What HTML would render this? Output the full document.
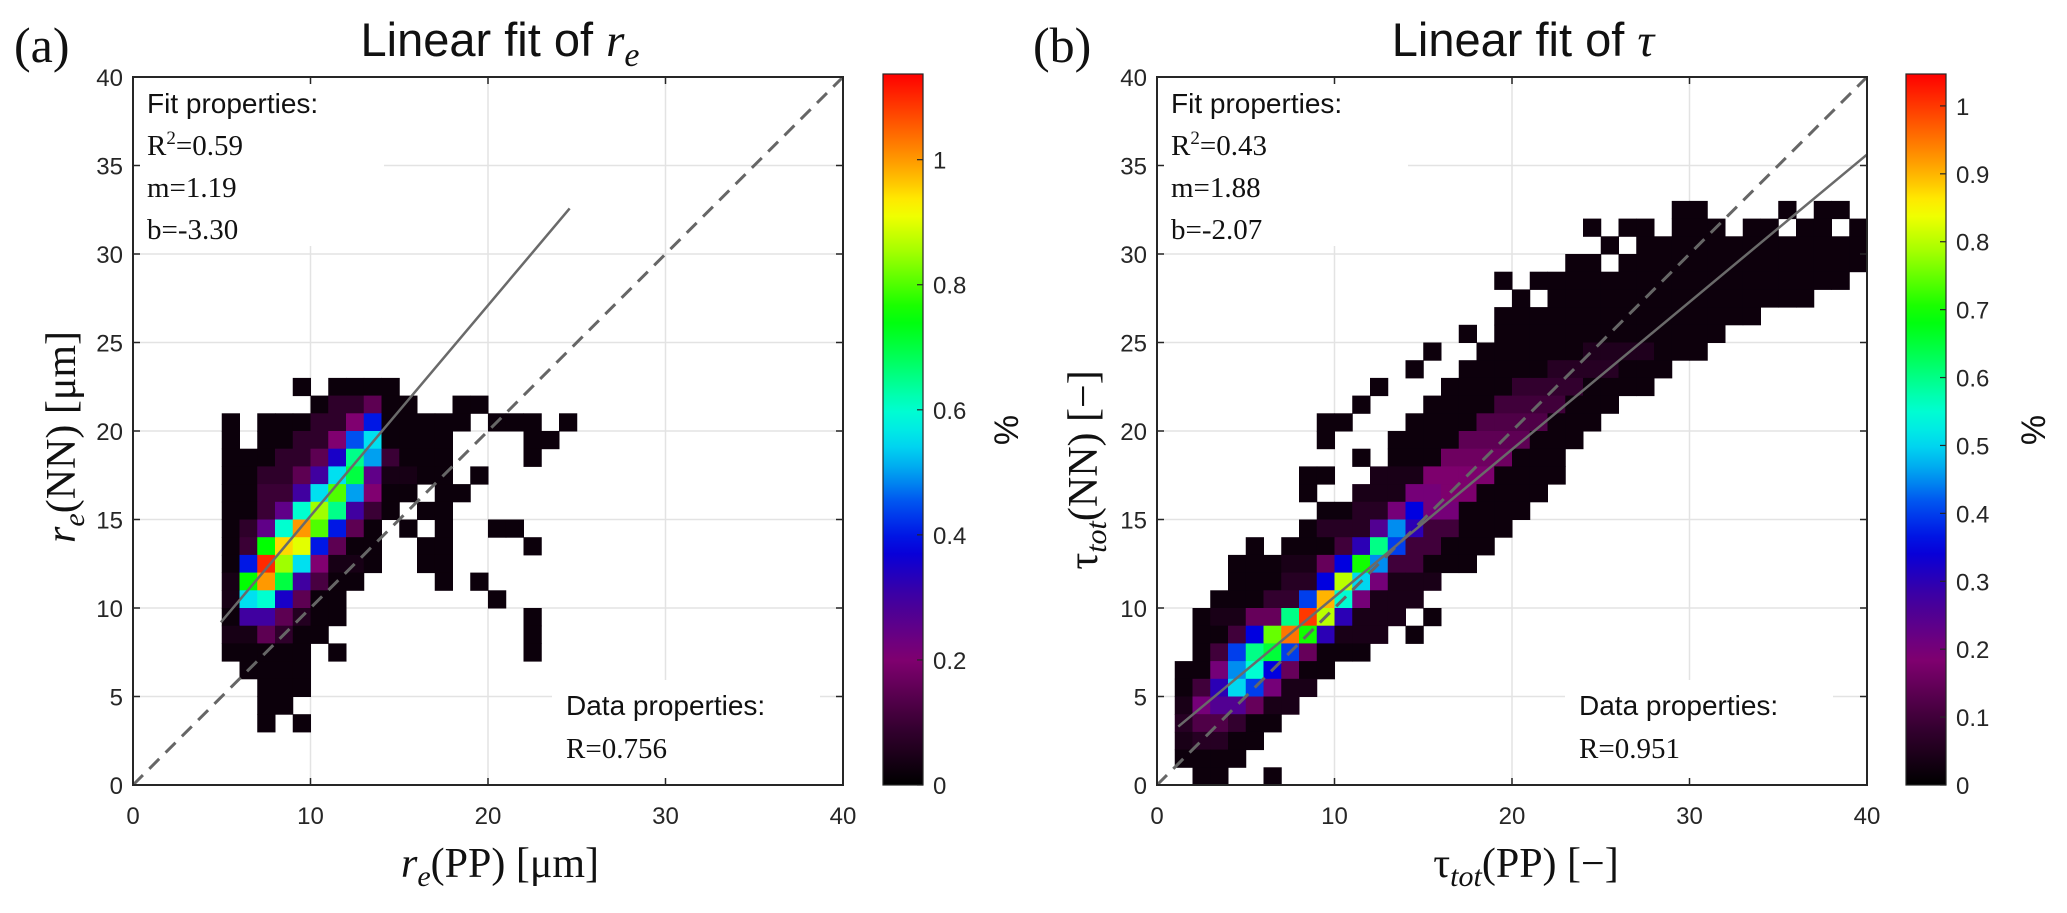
<!DOCTYPE html>
<html><head><meta charset="utf-8">
<style>
html,body{margin:0;padding:0;background:#fff;}
svg{display:block;}
.tick{font-family:"Liberation Sans",sans-serif;font-size:24px;fill:#262626;}
.ser{font-family:"Liberation Serif",serif;}
.san{font-family:"Liberation Sans",sans-serif;}
</style></head>
<body>
<svg id="fig" width="2067" height="913" viewBox="0 0 2067 913" xmlns="http://www.w3.org/2000/svg">
  <defs>
    <linearGradient id="cmapL" x1="0" y1="1" x2="0" y2="0"></linearGradient>
    <linearGradient id="cmapR" x1="0" y1="1" x2="0" y2="0"></linearGradient>
  </defs>
  <text x="14" y="62" class="ser" font-size="50" fill="#111">(a)</text>
  <text x="1033" y="62" class="ser" font-size="50" fill="#111">(b)</text>
  <text x="500" y="56" text-anchor="middle" class="san" font-size="47" fill="#111">Linear fit of <tspan class="ser" font-style="italic">r</tspan><tspan class="ser" font-style="italic" font-size="34" dy="10">e</tspan></text>
  <text x="1523" y="56" text-anchor="middle" class="san" font-size="47" fill="#111">Linear fit of <tspan class="ser" font-style="italic">τ</tspan></text>
  <g id="panelA"></g>
  <g id="panelB"></g>
  <text transform="translate(75,437) rotate(-90)" text-anchor="middle" class="ser" font-size="42" fill="#111"><tspan font-style="italic">r</tspan><tspan font-style="italic" font-size="30" dy="9">e</tspan><tspan dy="-9">(NN) [μm]</tspan></text>
  <text x="500" y="877" text-anchor="middle" class="ser" font-size="42" fill="#111"><tspan font-style="italic">r</tspan><tspan font-style="italic" font-size="30" dy="9">e</tspan><tspan dy="-9">(PP) [μm]</tspan></text>
  <text transform="translate(1097,470) rotate(-90)" text-anchor="middle" class="ser" font-size="42" fill="#111">τ<tspan font-style="italic" font-size="30" dy="9">tot</tspan><tspan dy="-9">(NN) [−]</tspan></text>
  <text x="1526" y="877" text-anchor="middle" class="ser" font-size="42" fill="#111">τ<tspan font-style="italic" font-size="30" dy="9">tot</tspan><tspan dy="-9">(PP) [−]</tspan></text>
  <text transform="translate(1018,430) rotate(-90)" text-anchor="middle" class="san" font-size="34" fill="#111">%</text>
  <text transform="translate(2045,430) rotate(-90)" text-anchor="middle" class="san" font-size="34" fill="#111">%</text>
</svg>
<script>
// ---- data: panel (a) r_e, rows of runs [xStart, xEnd, percent] per y-bin (1 µm bins)
const rowsA_y = [22,21,20,19,18,17,16,15,14,13,12,11,10,9,8,7,6,5,4,3];
const rowsA = [
 [[9,9,.02],[11,14,.02]],
 [[10,10,.02],[11,12,.08],[13,13,.15],[14,15,.02],[18,19,.02]],
 [[5,5,.02],[7,9,.02],[10,11,.08],[12,12,.2],[13,13,.4],[14,18,.02],[20,22,.02],[24,24,.02]],
 [[5,5,.02],[7,8,.02],[9,10,.08],[11,11,.2],[12,12,.45],[13,13,.55],[14,17,.02],[22,23,.02]],
 [[5,7,.02],[8,9,.08],[10,10,.15],[11,11,.35],[12,12,.65],[13,13,.5],[14,14,.1],[15,17,.02],[22,22,.02]],
 [[5,6,.02],[7,8,.08],[9,9,.15],[10,10,.3],[11,11,.55],[12,12,.7],[13,13,.25],[14,15,.04],[16,17,.02],[19,19,.02]],
 [[5,6,.02],[7,8,.1],[9,9,.3],[10,10,.55],[11,11,.8],[12,12,.5],[13,13,.2],[14,15,.02],[17,18,.02]],
 [[5,6,.02],[7,7,.1],[8,8,.25],[9,9,.6],[10,10,.85],[11,11,.65],[12,12,.3],[13,13,.1],[14,14,.02],[16,17,.02]],
 [[5,5,.02],[6,6,.08],[7,7,.25],[8,8,.6],[9,9,1.0],[10,10,.8],[11,11,.4],[12,12,.15],[13,13,.02],[15,15,.02],[17,17,.02],[20,21,.02]],
 [[5,5,.02],[6,6,.1],[7,7,.75],[8,8,.95],[9,9,.9],[10,10,.4],[11,11,.15],[12,13,.02],[16,17,.02],[22,22,.02]],
 [[5,5,.02],[6,6,.4],[7,7,1.1],[8,8,.85],[9,9,.55],[10,10,.2],[11,12,.04],[13,13,.02],[16,17,.02]],
 [[5,5,.04],[6,6,.75],[7,7,1.0],[8,8,.7],[9,9,.3],[10,10,.12],[11,12,.02],[17,17,.02],[19,19,.02]],
 [[5,5,.04],[6,6,.55],[7,7,.6],[8,8,.35],[9,9,.15],[10,11,.02],[20,20,.02]],
 [[5,5,.02],[6,6,.3],[7,7,.3],[8,8,.15],[9,9,.06],[10,11,.02],[22,22,.02]],
 [[5,6,.04],[7,7,.15],[8,8,.08],[9,10,.02],[22,22,.02]],
 [[5,9,.02],[11,11,.02],[22,22,.02]],
 [[6,9,.02]],
 [[7,9,.02]],
 [[7,8,.02]],
 [[7,7,.02],[9,9,.02]]
];
// ---- data: panel (b) tau, rows of runs
const rowsB_y = [32,31,30,29,28,27,26,25,24,23,22,21,20,19,18,17,16,15,14,13,12,11,10,9,8,7,6,5,4,3,2,1,0];
const rowsB = [
 [[29,30,.02],[35,35,.02],[37,38,.02]],
 [[24,24,.02],[26,27,.02],[29,31,.02],[33,34,.02],[36,37,.02],[39,39,.02]],
 [[25,25,.02],[27,39,.02]],
 [[23,24,.02],[26,39,.02]],
 [[19,19,.02],[21,38,.02]],
 [[20,20,.02],[22,36,.02]],
 [[19,33,.02]],
 [[17,17,.02],[19,31,.02]],
 [[15,15,.02],[18,23,.02],[24,27,.05],[28,30,.02]],
 [[14,14,.02],[17,21,.02],[22,25,.06],[26,28,.02]],
 [[12,12,.02],[16,19,.02],[20,23,.08],[24,27,.02]],
 [[11,11,.02],[15,18,.02],[19,22,.1],[23,25,.02]],
 [[9,10,.02],[14,17,.02],[18,21,.12],[22,24,.02]],
 [[9,9,.02],[13,16,.02],[17,20,.14],[21,23,.02]],
 [[11,11,.02],[13,15,.02],[16,19,.16],[20,22,.02]],
 [[8,9,.02],[12,14,.04],[15,18,.18],[19,22,.02]],
 [[8,8,.02],[11,13,.04],[14,15,.2],[16,17,.18],[18,21,.02]],
 [[9,10,.02],[11,12,.06],[13,13,.2],[14,14,.35],[15,16,.2],[17,20,.02]],
 [[8,8,.02],[9,11,.06],[12,12,.25],[13,13,.45],[14,14,.3],[15,16,.1],[17,19,.02]],
 [[5,5,.02],[7,9,.02],[10,10,.1],[11,11,.3],[12,12,.6],[13,13,.4],[14,15,.1],[16,18,.02]],
 [[4,6,.02],[7,8,.04],[9,9,.15],[10,10,.35],[11,11,.7],[12,12,.45],[13,14,.1],[15,17,.02]],
 [[4,6,.02],[7,8,.06],[9,9,.35],[10,10,.8],[11,11,.5],[12,12,.2],[13,15,.04]],
 [[3,5,.02],[6,7,.08],[8,8,.4],[9,9,.9],[10,10,.55],[11,11,.2],[12,14,.04]],
 [[2,2,.02],[3,4,.04],[5,6,.15],[7,7,.6],[8,8,1.0],[9,9,.8],[10,10,.3],[11,13,.04],[15,15,.02]],
 [[2,3,.02],[4,4,.1],[5,5,.35],[6,6,.75],[7,7,.95],[8,8,.7],[9,9,.3],[10,12,.04],[14,14,.02]],
 [[2,2,.02],[3,3,.1],[4,4,.4],[5,5,.6],[6,6,.65],[7,7,.4],[8,8,.15],[9,11,.02]],
 [[1,2,.02],[3,3,.2],[4,4,.45],[5,5,.55],[6,6,.35],[7,7,.15],[8,9,.02]],
 [[1,1,.02],[2,2,.1],[3,3,.3],[4,4,.5],[5,5,.4],[6,6,.2],[7,8,.04]],
 [[1,1,.04],[2,2,.2],[3,3,.25],[4,4,.25],[5,5,.15],[6,7,.04]],
 [[1,1,.06],[2,3,.12],[4,4,.08],[5,6,.02]],
 [[1,1,.04],[2,3,.06],[4,5,.02]],
 [[1,4,.02]],
 [[2,3,.02],[6,6,.02]]
];
const fitA = [1.19, 3.3, 4.95, 24.6];   // slope, intercept (as drawn), x start, x end
const fitB = [0.833, 2.3, 1.2, 40];
const textA = ["Fit properties:","0.59","m=1.19","b=-3.30","Data properties:","R=0.756"];
const textB = ["Fit properties:","0.43","m=1.88","b=-2.07","Data properties:","R=0.951"];
const yTicks = [0,5,10,15,20,25,30,35,40];
const xTicks = [0,10,20,30,40];
const cbTicksA = [0,0.2,0.4,0.6,0.8,1];
const cbTicksB = [0,0.1,0.2,0.3,0.4,0.5,0.6,0.7,0.8,0.9,1];
const cbMaxA = 1.137, cbMaxB = 1.047;

const NS = "http://www.w3.org/2000/svg";
const stops = [[0,"#000000"],[.088,"#3a0035"],[.176,"#800070"],[.264,"#4000a0"],[.334,"#0000e0"],[.396,"#0050f0"],[.44,"#00a0f0"],[.484,"#00e0f0"],[.528,"#00ffd0"],[.616,"#00ff40"],[.66,"#00ff00"],[.748,"#a0ff00"],[.81,"#ffff00"],[.862,"#ffb000"],[.923,"#ff6000"],[1,"#ff0000"]];
function hex(h){return [parseInt(h.slice(1,3),16),parseInt(h.slice(3,5),16),parseInt(h.slice(5,7),16)];}
function cmap(f){
  f=Math.max(0,Math.min(1,f));
  for(let i=1;i<stops.length;i++){
    if(f<=stops[i][0]){
      const a=stops[i-1],b=stops[i],t=(f-a[0])/(b[0]-a[0]);
      const ca=hex(a[1]),cb=hex(b[1]);
      return "rgb("+ca.map((v,k)=>Math.round(v+(cb[k]-v)*t)).join(",")+")";
    }
  }
  return stops[stops.length-1][1];
}
function mk(tag,attrs,parent){const e=document.createElementNS(NS,tag);for(const k in attrs)e.setAttribute(k,attrs[k]);parent.appendChild(e);return e;}
["cmapL","cmapR"].forEach(id=>{
  const g=document.getElementById(id);
  for(let i=0;i<=40;i++){mk("stop",{offset:(i/40),"stop-color":cmap(i/40)},g);}
});

function panel(g, X0, rowsY, rows, fit, txt, cbX, cbMax, cbTicks, gradId, dataX, key){
  const X1=X0+710, YT=77, YB=785;
  const sx=v=>X0+(v/40)*(X1-X0);
  const sy=v=>YB-(v/40)*(YB-YT);
  // grid
  [10,20,30].forEach(v=>{
    const gx=mk("line",{x1:sx(v),x2:sx(v),y1:YT,y2:YB,stroke:"#e3e3e3","stroke-width":1.5},g);
    
    
    const gy=mk("line",{x1:X0,x2:X1,y1:sy(v),y2:sy(v),stroke:"#e3e3e3","stroke-width":1.5},g);
    
    
  });
  [35,25,15,5].forEach(v=>{
    const gy=mk("line",{x1:X0,x2:X1,y1:sy(v),y2:sy(v),stroke:"#e3e3e3","stroke-width":1.5},g);
    
    
  });
  // heatmap cells
  const hm=mk("g",{},g);
  
  
  rows.forEach((runs,ri)=>{
    const yv=rowsY[ri];
    runs.forEach(r=>{
      for(let xv=r[0];xv<=r[1];xv++){
        const c=mk("rect",{x:sx(xv),y:sy(yv+1),width:sx(xv+1)-sx(xv)+0.5,height:sy(yv)-sy(yv+1)+0.5,fill:cmap(r[2]/cbMax)},hm);
        
        
      }
    });
  });
  // text boxes (white background)
  const wb=mk("rect",{x:X0+1,y:YT+1,width:250,height:168,fill:"#fff"},g);
  
  
  const wb2=mk("rect",{x:dataX-14,y:680,width:268,height:104,fill:"#fff"},g);
  
  
  // identity dashed line
  const dl=mk("line",{x1:sx(0),y1:sy(0),x2:sx(40),y2:sy(40),stroke:"#666","stroke-width":3,"stroke-dasharray":"14,9"},g);
  
  
  // fit line
  const fl=mk("line",{x1:sx(fit[2]),y1:sy(fit[0]*fit[2]+fit[1]),x2:sx(fit[3]),y2:sy(fit[0]*fit[3]+fit[1]),stroke:"#6a6a6a","stroke-width":2.5},g);
  
  
  // axes box
  const bx=mk("rect",{x:X0,y:YT,width:X1-X0,height:YB-YT,fill:"none",stroke:"#262626","stroke-width":2},g);
  
  
  yTicks.forEach(v=>{
    mk("line",{x1:X0,x2:X0+7,y1:sy(v),y2:sy(v),stroke:"#262626","stroke-width":1.5},g);
    mk("line",{x1:X1,x2:X1-7,y1:sy(v),y2:sy(v),stroke:"#262626","stroke-width":1.5},g);
    const t=mk("text",{x:X0-10,y:sy(v)+9,"text-anchor":"end",class:"tick"},g);
    t.textContent=v;
    
    
  });
  xTicks.forEach(v=>{
    mk("line",{x1:sx(v),x2:sx(v),y1:YB,y2:YB-7,stroke:"#262626","stroke-width":1.5},g);
    mk("line",{x1:sx(v),x2:sx(v),y1:YT,y2:YT+7,stroke:"#262626","stroke-width":1.5},g);
    const t=mk("text",{x:sx(v),y:YB+39,"text-anchor":"middle",class:"tick"},g);
    t.textContent=v;
    
    
  });
  // annotation text
  const t0=mk("text",{x:X0+14,y:113,class:"san","font-size":28,fill:"#111"},g);
  t0.textContent=txt[0];
  
  
  const t1=mk("text",{x:X0+14,y:155,class:"ser","font-size":29,fill:"#111"},g);
  t1.innerHTML='R<tspan font-size="19" dy="-11">2</tspan><tspan dy="11">='+txt[1]+'</tspan>';
  
  
  const t2=mk("text",{x:X0+14,y:197,class:"ser","font-size":29,fill:"#111"},g);
  t2.textContent=txt[2];
  
  
  const t3=mk("text",{x:X0+14,y:239,class:"ser","font-size":29,fill:"#111"},g);
  t3.textContent=txt[3];
  
  
  const t4=mk("text",{x:dataX,y:715,class:"san","font-size":28,fill:"#111"},g);
  t4.textContent=txt[4];
  
  
  const t5=mk("text",{x:dataX,y:758,class:"ser","font-size":29,fill:"#111"},g);
  t5.textContent=txt[5];
  
  
  // colorbar
  const CT=74, CB=785;
  const cb=mk("rect",{x:cbX,y:CT,width:40,height:CB-CT,fill:"url(#"+gradId+")",stroke:"#262626","stroke-width":1.2},g);
  
  
  const cy=v=>CB-(v/cbMax)*(CB-CT);
  cbTicks.forEach(v=>{
    mk("line",{x1:cbX+40,x2:cbX+34,y1:cy(v),y2:cy(v),stroke:"#262626","stroke-width":1.2},g);
    const t=mk("text",{x:cbX+50,y:cy(v)+9,class:"tick"},g);
    t.textContent=v;
    
    
  });
}
panel(document.getElementById("panelA"),133,rowsA_y,rowsA,fitA,textA,883,cbMaxA,cbTicksA,"cmapL",566,"a");
panel(document.getElementById("panelB"),1157,rowsB_y,rowsB,fitB,textB,1906,cbMaxB,cbTicksB,"cmapR",1579,"b");
</script>
</body></html>
